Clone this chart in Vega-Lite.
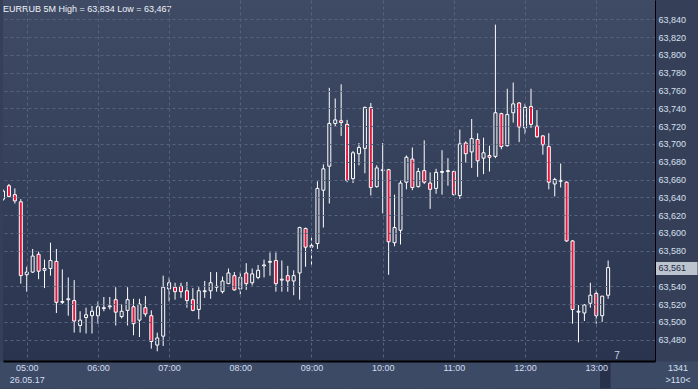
{
  "$schema": "https://vega.github.io/schema/vega-lite/v6.json",
  "width": 652,
  "height": 361,
  "autosize": {"type": "none"},
  "padding": {"left": 3, "top": 0, "right": 43, "bottom": 28},
  "background": "#353f58",
  "view": {"stroke": null, "fill": {"gradient": "linear", "x1": 0, "y1": 0, "x2": 0, "y2": 1, "stops": [{"offset": 0, "color": "#3f4b65"}, {"offset": 1, "color": "#2a344e"}]}},
  "title": {"text": "EURRUB 5M High = 63,834 Low = 63,467", "anchor": "start", "frame": "group", "offset": -21, "baseline": "alphabetic", "font": "Liberation Sans", "fontSize": 9, "fontWeight": "normal", "color": "#eef2f8"},
  "data": {"values": [
    {"t":"2017-05-26 04:40","o":63.638,"h":63.649,"l":63.636,"c":63.647},
    {"t":"2017-05-26 04:45","o":63.653,"h":63.655,"l":63.640,"c":63.641},
    {"t":"2017-05-26 04:50","o":63.643,"h":63.650,"l":63.633,"c":63.636},
    {"t":"2017-05-26 04:55","o":63.635,"h":63.638,"l":63.543,"c":63.552},
    {"t":"2017-05-26 05:00","o":63.553,"h":63.562,"l":63.534,"c":63.556},
    {"t":"2017-05-26 05:05","o":63.556,"h":63.582,"l":63.555,"c":63.574},
    {"t":"2017-05-26 05:10","o":63.576,"h":63.579,"l":63.548,"c":63.557},
    {"t":"2017-05-26 05:15","o":63.558,"h":63.570,"l":63.538,"c":63.560},
    {"t":"2017-05-26 05:20","o":63.560,"h":63.589,"l":63.552,"c":63.569},
    {"t":"2017-05-26 05:25","o":63.568,"h":63.582,"l":63.510,"c":63.522},
    {"t":"2017-05-26 05:30","o":63.522,"h":63.559,"l":63.520,"c":63.523},
    {"t":"2017-05-26 05:35","o":63.525,"h":63.550,"l":63.507,"c":63.526},
    {"t":"2017-05-26 05:40","o":63.524,"h":63.547,"l":63.488,"c":63.501},
    {"t":"2017-05-26 05:45","o":63.496,"h":63.512,"l":63.488,"c":63.502},
    {"t":"2017-05-26 05:50","o":63.505,"h":63.516,"l":63.487,"c":63.508},
    {"t":"2017-05-26 05:55","o":63.507,"h":63.518,"l":63.487,"c":63.512},
    {"t":"2017-05-26 06:00","o":63.507,"h":63.523,"l":63.498,"c":63.517},
    {"t":"2017-05-26 06:05","o":63.515,"h":63.528,"l":63.512,"c":63.516},
    {"t":"2017-05-26 06:10","o":63.517,"h":63.528,"l":63.514,"c":63.518},
    {"t":"2017-05-26 06:15","o":63.525,"h":63.539,"l":63.496,"c":63.511},
    {"t":"2017-05-26 06:20","o":63.506,"h":63.520,"l":63.504,"c":63.512},
    {"t":"2017-05-26 06:25","o":63.513,"h":63.539,"l":63.496,"c":63.525},
    {"t":"2017-05-26 06:30","o":63.517,"h":63.526,"l":63.485,"c":63.498},
    {"t":"2017-05-26 06:35","o":63.502,"h":63.526,"l":63.483,"c":63.520},
    {"t":"2017-05-26 06:40","o":63.516,"h":63.529,"l":63.506,"c":63.509},
    {"t":"2017-05-26 06:45","o":63.507,"h":63.513,"l":63.470,"c":63.478},
    {"t":"2017-05-26 06:50","o":63.474,"h":63.488,"l":63.467,"c":63.482},
    {"t":"2017-05-26 06:55","o":63.484,"h":63.552,"l":63.473,"c":63.539},
    {"t":"2017-05-26 07:00","o":63.537,"h":63.550,"l":63.523,"c":63.544},
    {"t":"2017-05-26 07:05","o":63.539,"h":63.544,"l":63.525,"c":63.534},
    {"t":"2017-05-26 07:10","o":63.540,"h":63.544,"l":63.527,"c":63.534},
    {"t":"2017-05-26 07:15","o":63.535,"h":63.545,"l":63.516,"c":63.524},
    {"t":"2017-05-26 07:20","o":63.525,"h":63.538,"l":63.512,"c":63.513},
    {"t":"2017-05-26 07:25","o":63.514,"h":63.539,"l":63.503,"c":63.535},
    {"t":"2017-05-26 07:30","o":63.534,"h":63.546,"l":63.527,"c":63.535},
    {"t":"2017-05-26 07:35","o":63.535,"h":63.556,"l":63.526,"c":63.544},
    {"t":"2017-05-26 07:40","o":63.539,"h":63.556,"l":63.534,"c":63.540},
    {"t":"2017-05-26 07:45","o":63.534,"h":63.551,"l":63.532,"c":63.546},
    {"t":"2017-05-26 07:50","o":63.543,"h":63.560,"l":63.543,"c":63.555},
    {"t":"2017-05-26 07:55","o":63.552,"h":63.556,"l":63.535,"c":63.536},
    {"t":"2017-05-26 08:00","o":63.537,"h":63.556,"l":63.531,"c":63.550},
    {"t":"2017-05-26 08:05","o":63.555,"h":63.566,"l":63.536,"c":63.543},
    {"t":"2017-05-26 08:10","o":63.544,"h":63.560,"l":63.541,"c":63.554},
    {"t":"2017-05-26 08:15","o":63.550,"h":63.564,"l":63.548,"c":63.558},
    {"t":"2017-05-26 08:20","o":63.563,"h":63.570,"l":63.550,"c":63.564},
    {"t":"2017-05-26 08:25","o":63.567,"h":63.578,"l":63.552,"c":63.568},
    {"t":"2017-05-26 08:30","o":63.569,"h":63.578,"l":63.534,"c":63.543},
    {"t":"2017-05-26 08:35","o":63.548,"h":63.569,"l":63.534,"c":63.547},
    {"t":"2017-05-26 08:40","o":63.552,"h":63.563,"l":63.534,"c":63.546},
    {"t":"2017-05-26 08:45","o":63.546,"h":63.558,"l":63.530,"c":63.552},
    {"t":"2017-05-26 08:50","o":63.555,"h":63.607,"l":63.525,"c":63.606},
    {"t":"2017-05-26 08:55","o":63.605,"h":63.606,"l":63.562,"c":63.584},
    {"t":"2017-05-26 09:00","o":63.584,"h":63.595,"l":63.563,"c":63.586},
    {"t":"2017-05-26 09:05","o":63.588,"h":63.658,"l":63.582,"c":63.650},
    {"t":"2017-05-26 09:10","o":63.648,"h":63.677,"l":63.606,"c":63.672},
    {"t":"2017-05-26 09:15","o":63.675,"h":63.763,"l":63.633,"c":63.723},
    {"t":"2017-05-26 09:20","o":63.723,"h":63.751,"l":63.719,"c":63.727},
    {"t":"2017-05-26 09:25","o":63.726,"h":63.767,"l":63.709,"c":63.724},
    {"t":"2017-05-26 09:30","o":63.722,"h":63.727,"l":63.657,"c":63.659},
    {"t":"2017-05-26 09:35","o":63.661,"h":63.692,"l":63.656,"c":63.690},
    {"t":"2017-05-26 09:40","o":63.689,"h":63.701,"l":63.676,"c":63.696},
    {"t":"2017-05-26 09:45","o":63.695,"h":63.742,"l":63.667,"c":63.741},
    {"t":"2017-05-26 09:50","o":63.741,"h":63.746,"l":63.642,"c":63.651},
    {"t":"2017-05-26 09:55","o":63.652,"h":63.676,"l":63.651,"c":63.673},
    {"t":"2017-05-26 10:00","o":63.670,"h":63.701,"l":63.622,"c":63.671},
    {"t":"2017-05-26 10:05","o":63.671,"h":63.672,"l":63.553,"c":63.590},
    {"t":"2017-05-26 10:10","o":63.589,"h":63.643,"l":63.585,"c":63.606},
    {"t":"2017-05-26 10:15","o":63.603,"h":63.659,"l":63.587,"c":63.656},
    {"t":"2017-05-26 10:20","o":63.657,"h":63.687,"l":63.649,"c":63.685},
    {"t":"2017-05-26 10:25","o":63.683,"h":63.696,"l":63.648,"c":63.651},
    {"t":"2017-05-26 10:30","o":63.652,"h":63.673,"l":63.651,"c":63.669},
    {"t":"2017-05-26 10:35","o":63.670,"h":63.704,"l":63.655,"c":63.657},
    {"t":"2017-05-26 10:40","o":63.656,"h":63.668,"l":63.627,"c":63.649},
    {"t":"2017-05-26 10:45","o":63.650,"h":63.672,"l":63.644,"c":63.668},
    {"t":"2017-05-26 10:50","o":63.668,"h":63.693,"l":63.643,"c":63.669},
    {"t":"2017-05-26 10:55","o":63.669,"h":63.684,"l":63.653,"c":63.670},
    {"t":"2017-05-26 11:00","o":63.669,"h":63.670,"l":63.642,"c":63.643},
    {"t":"2017-05-26 11:05","o":63.642,"h":63.716,"l":63.638,"c":63.700},
    {"t":"2017-05-26 11:10","o":63.701,"h":63.703,"l":63.679,"c":63.689},
    {"t":"2017-05-26 11:15","o":63.691,"h":63.728,"l":63.673,"c":63.706},
    {"t":"2017-05-26 11:20","o":63.705,"h":63.712,"l":63.663,"c":63.681},
    {"t":"2017-05-26 11:25","o":63.684,"h":63.707,"l":63.666,"c":63.690},
    {"t":"2017-05-26 11:30","o":63.687,"h":63.698,"l":63.669,"c":63.685},
    {"t":"2017-05-26 11:35","o":63.686,"h":63.834,"l":63.684,"c":63.735},
    {"t":"2017-05-26 11:40","o":63.734,"h":63.735,"l":63.694,"c":63.697},
    {"t":"2017-05-26 11:45","o":63.698,"h":63.762,"l":63.697,"c":63.733},
    {"t":"2017-05-26 11:50","o":63.735,"h":63.769,"l":63.724,"c":63.745},
    {"t":"2017-05-26 11:55","o":63.746,"h":63.747,"l":63.702,"c":63.719},
    {"t":"2017-05-26 12:00","o":63.718,"h":63.745,"l":63.711,"c":63.741},
    {"t":"2017-05-26 12:05","o":63.742,"h":63.762,"l":63.718,"c":63.722},
    {"t":"2017-05-26 12:10","o":63.720,"h":63.738,"l":63.707,"c":63.708},
    {"t":"2017-05-26 12:15","o":63.709,"h":63.710,"l":63.688,"c":63.699},
    {"t":"2017-05-26 12:20","o":63.697,"h":63.712,"l":63.649,"c":63.657},
    {"t":"2017-05-26 12:25","o":63.655,"h":63.662,"l":63.641,"c":63.660},
    {"t":"2017-05-26 12:30","o":63.658,"h":63.678,"l":63.651,"c":63.659},
    {"t":"2017-05-26 12:35","o":63.657,"h":63.658,"l":63.590,"c":63.591},
    {"t":"2017-05-26 12:40","o":63.591,"h":63.592,"l":63.498,"c":63.514},
    {"t":"2017-05-26 12:45","o":63.511,"h":63.519,"l":63.477,"c":63.512},
    {"t":"2017-05-26 12:50","o":63.510,"h":63.520,"l":63.501,"c":63.519},
    {"t":"2017-05-26 12:55","o":63.521,"h":63.544,"l":63.516,"c":63.530},
    {"t":"2017-05-26 13:00","o":63.532,"h":63.536,"l":63.498,"c":63.507},
    {"t":"2017-05-26 13:05","o":63.507,"h":63.529,"l":63.500,"c":63.529},
    {"t":"2017-05-26 13:10","o":63.530,"h":63.569,"l":63.526,"c":63.561}
  ]},
  "encoding": {
    "x": {
      "field": "t", "type": "temporal",
      "scale": {"domain": [{"year": 2017, "month": 5, "date": 26, "hours": 4, "minutes": 40}, {"year": 2017, "month": 5, "date": 26, "hours": 13, "minutes": 49, "seconds": 30}], "nice": false, "padding": 0},
      "axis": {
        "values": [
          {"year": 2017, "month": 5, "date": 26, "hours": 5},
          {"year": 2017, "month": 5, "date": 26, "hours": 6},
          {"year": 2017, "month": 5, "date": 26, "hours": 7},
          {"year": 2017, "month": 5, "date": 26, "hours": 8},
          {"year": 2017, "month": 5, "date": 26, "hours": 9},
          {"year": 2017, "month": 5, "date": 26, "hours": 10},
          {"year": 2017, "month": 5, "date": 26, "hours": 11},
          {"year": 2017, "month": 5, "date": 26, "hours": 12},
          {"year": 2017, "month": 5, "date": 26, "hours": 13},
          {"year": 2017, "month": 5, "date": 26, "hours": 13, "minutes": 49, "seconds": 30},
          {"year": 2017, "month": 5, "date": 26, "hours": 13, "minutes": 26, "seconds": 18}
        ],
        "labelExpr": "minutes(datum.value) != 0 ? '' : (hours(datum.value) == 5 ? [timeFormat(datum.value, '%H:%M'), '26.05.17'] : timeFormat(datum.value, '%H:%M'))",
        "labelAlign": "center", "labelBaseline": "top", "labelPadding": -25, "labelLineHeight": 12,
        "labelFlush": false, "labelOverlap": false,
        "labelFont": "Liberation Sans", "labelFontSize": 9, "labelColor": "#d2ddf0",
        "ticks": true, "tickSize": 27, "tickCap": "butt",
        "tickWidth": {"condition": {"test": "minutes(datum.value) == 26", "value": 55}, "value": 90},
        "tickColor": {"condition": {"test": "minutes(datum.value) == 26", "value": "#27314a"}, "value": "#3d4a65"},
        "domain": true, "domainColor": "#000000", "domainWidth": 2,
        "grid": true, "gridColor": "#56637e", "gridDash": [3, 3],
        "gridOpacity": {"condition": {"test": "minutes(datum.value) != 0", "value": 0}, "value": 1},
        "title": "7", "titleX": 613.5, "titleY": -2.5, "titleAlign": "center", "titleBaseline": "alphabetic", "titleAngle": 0,
        "titleFont": "Liberation Sans", "titleFontSize": 10, "titleFontWeight": "normal", "titleColor": "#c6d2ea",
        "zindex": 1
      }
    },
    "y": {
      "field": "l", "type": "quantitative",
      "scale": {"domain": [63.4561, 63.8617], "nice": false, "zero": false, "padding": 0},
      "axis": {
        "orient": "right",
        "values": [63.48, 63.5, 63.52, 63.54, 63.561, 63.58, 63.6, 63.62, 63.64, 63.66, 63.68, 63.7, 63.72, 63.74, 63.76, 63.78, 63.8, 63.82, 63.84],
        "labelExpr": "replace(format(datum.value, '.3f'), '.', ',')",
        "labelAlign": "left", "labelBaseline": "middle", "labelPadding": -39,
        "labelFont": "Liberation Sans", "labelFontSize": 9,
        "labelColor": {"condition": {"test": "abs(datum.value - 63.561) < 0.0005", "value": "#1f2940"}, "value": "#d6e0f0"},
        "labelOverlap": false, "labelFlush": false,
        "ticks": true, "tickSize": 42, "tickWidth": 13, "tickColor": "#bcc4d0", "tickCap": "butt",
        "tickOpacity": {"condition": {"test": "abs(datum.value - 63.561) < 0.0005", "value": 1}, "value": 0},
        "domain": true, "domainColor": "#000000", "domainWidth": 1,
        "grid": true, "gridColor": "#56637e", "gridDash": [3, 3],
        "gridOpacity": {"condition": {"test": "abs(datum.value - 63.561) < 0.0005", "value": 0}, "value": 1},
        "title": ["1341", ">110<"], "titleAngle": 0, "titleX": 22.5, "titleY": 363, "titleAlign": "center", "titleBaseline": "top",
        "titleFont": "Liberation Sans", "titleFontSize": 9, "titleFontWeight": "normal", "titleColor": "#d6e0f0", "titleLineHeight": 12.5,
        "zindex": 2
      }
    }
  },
  "layer": [
    {
      "mark": {"type": "rule", "color": "#ffffff", "strokeWidth": 1, "clip": true},
      "encoding": {
        "y2": {"field": "h"}
      }
    },
    {
      "mark": {"type": "bar", "width": 3, "stroke": "#ffffff", "strokeWidth": 1, "clip": true},
      "encoding": {
        "y": {"field": "o", "type": "quantitative",
          "scale": {"domain": [63.4561, 63.8617], "nice": false, "zero": false, "padding": 0},
          "axis": {
            "orient": "right",
            "values": [63.48, 63.5, 63.52, 63.54, 63.561, 63.58, 63.6, 63.62, 63.64, 63.66, 63.68, 63.7, 63.72, 63.74, 63.76, 63.78, 63.8, 63.82, 63.84],
            "labelExpr": "replace(format(datum.value, '.3f'), '.', ',')",
            "labelAlign": "left", "labelBaseline": "middle", "labelPadding": -39,
            "labelFont": "Liberation Sans", "labelFontSize": 9,
            "labelColor": {"condition": {"test": "abs(datum.value - 63.561) < 0.0005", "value": "#1f2940"}, "value": "#d6e0f0"},
            "labelOverlap": false, "labelFlush": false,
            "ticks": true, "tickSize": 42, "tickWidth": 13, "tickColor": "#bcc4d0", "tickCap": "butt",
            "tickOpacity": {"condition": {"test": "abs(datum.value - 63.561) < 0.0005", "value": 1}, "value": 0},
            "domain": true, "domainColor": "#000000", "domainWidth": 1,
            "grid": true, "gridColor": "#56637e", "gridDash": [3, 3],
            "gridOpacity": {"condition": {"test": "abs(datum.value - 63.561) < 0.0005", "value": 0}, "value": 1},
            "title": ["1341", ">110<"], "titleAngle": 0, "titleX": 22.5, "titleY": 363, "titleAlign": "center", "titleBaseline": "top",
            "titleFont": "Liberation Sans", "titleFontSize": 9, "titleFontWeight": "normal", "titleColor": "#d6e0f0", "titleLineHeight": 12.5,
            "zindex": 2
          }
        },
        "y2": {"field": "c"},
        "fill": {
          "condition": {"test": "datum.c < datum.o", "value": "#e3173f"},
          "field": "c", "type": "quantitative",
          "scale": {"domain": [63.4561, 63.8617], "range": ["#2a344e", "#3f4b65"], "interpolate": "rgb"},
          "legend": null
        }
      }
    }
  ]
}
